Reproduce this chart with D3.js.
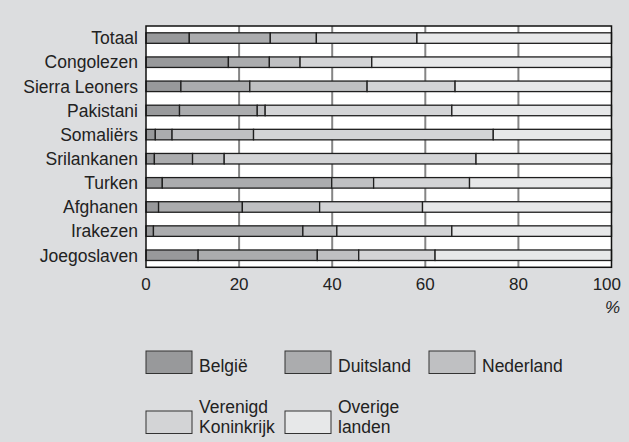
<!DOCTYPE html>
<html>
<head>
<meta charset="utf-8">
<script src="https://cdn.jsdelivr.net/npm/d3@7"></script>
<style>
  html, body { margin: 0; padding: 0; background: #dcdddf; }
  svg { display: block; font-family: "Liberation Sans", Arial, sans-serif; }
</style>
</head>
<body>
<svg id="chart" width="629" height="442"></svg>
<script>
// herkomstgroepen, van boven naar beneden
const groups = ['Totaal', 'Congolezen', 'Sierra Leoners', 'Pakistani', 'Somaliërs',
  'Srilankanen', 'Turken', 'Afghanen', 'Irakezen', 'Joegoslaven'];
const series = ['België', 'Duitsland', 'Nederland', 'Verenigd Koninkrijk', 'Overige landen'];

// percentages per land van bestemming
const belgie      = [9.3, 17.7, 7.5, 7.2, 2.0, 1.8, 3.5, 2.7, 1.6, 11.2];
const duitsland   = [17.4, 8.8, 14.8, 16.7, 3.6, 8.2, 36.4, 18.0, 32.1, 25.6];
const nederland   = [9.9, 6.6, 25.2, 1.7, 17.5, 6.8, 9.0, 16.6, 7.3, 8.9];
const verenigdKon = [21.6, 15.4, 18.9, 40.1, 51.5, 54.1, 20.6, 22.1, 24.7, 16.4];
const overige     = [41.8, 51.5, 33.6, 34.3, 25.4, 29.1, 30.5, 40.6, 34.3, 37.9];
const ticks = [0, 20, 40, 60, 80, 100];

const colors = ['#98999b', '#abacae', '#bfc0c2', '#d3d4d6', '#e7e8e9'];

const rows = groups.map((g, i) => ({
  group: g,
  'België': belgie[i],
  'Duitsland': duitsland[i],
  'Nederland': nederland[i],
  'Verenigd Koninkrijk': verenigdKon[i],
  'Overige landen': overige[i]
}));

const svg = d3.select('#chart');
const plotLeft = 146, plotRight = 611.5, plotTop = 26, plotBottom = 267.3;

const x = d3.scaleLinear().domain([0, 100]).range([plotLeft, plotRight]);
const y = d3.scaleBand().domain(groups).range([plotTop, plotBottom])
  .paddingInner(0.564).paddingOuter(0.282);
const color = d3.scaleOrdinal().domain(series).range(colors);

// plot area
svg.append('rect')
  .attr('x', plotLeft).attr('y', plotTop)
  .attr('width', plotRight - plotLeft).attr('height', plotBottom - plotTop)
  .attr('fill', '#fff');

// gridlines
svg.append('g').selectAll('line')
  .data(ticks.slice(1, -1))
  .join('line')
  .attr('x1', d => x(d)).attr('x2', d => x(d))
  .attr('y1', plotTop).attr('y2', plotBottom)
  .attr('stroke', '#858585').attr('stroke-width', 2);

const stacked = d3.stack().keys(series)(rows);

svg.append('g').selectAll('g')
  .data(stacked)
  .join('g')
  .attr('fill', d => color(d.key))
  .selectAll('rect')
  .data(d => d)
  .join('rect')
  .attr('x', d => x(d[0]))
  .attr('y', d => y(d.data.group))
  .attr('width', d => x(d[1]) - x(d[0]))
  .attr('height', y.bandwidth())
  .attr('stroke', '#1e1e1e')
  .attr('stroke-width', 1.3);

// frame
svg.append('rect')
  .attr('x', plotLeft).attr('y', plotTop)
  .attr('width', plotRight - plotLeft).attr('height', plotBottom - plotTop)
  .attr('fill', 'none').attr('stroke', '#111').attr('stroke-width', 1.5);

// category labels
svg.append('g').selectAll('text')
  .data(groups)
  .join('text')
  .attr('x', 138)
  .attr('y', d => y(d) + y.bandwidth() / 2)
  .attr('dy', '0.36em')
  .attr('text-anchor', 'end')
  .attr('font-size', 17.5)
  .attr('fill', '#222')
  .text(d => d);

// x tick labels
svg.append('g').selectAll('text')
  .data(ticks)
  .join('text')
  .attr('x', d => d === 100 ? 621 : x(d))
  .attr('y', 290)
  .attr('text-anchor', d => d === 100 ? 'end' : 'middle')
  .attr('font-size', 17)
  .attr('fill', '#222')
  .text(d => d);

svg.append('text')
  .attr('x', 620).attr('y', 313)
  .attr('text-anchor', 'end')
  .attr('font-size', 17)
  .attr('font-style', 'italic')
  .attr('fill', '#222')
  .text('%');

// legend
const legendItems = [
  { key: 'België', lines: ['België'], x: 146, y: 351 },
  { key: 'Duitsland', lines: ['Duitsland'], x: 285, y: 351 },
  { key: 'Nederland', lines: ['Nederland'], x: 429, y: 351 },
  { key: 'Verenigd Koninkrijk', lines: ['Verenigd', 'Koninkrijk'], x: 146, y: 411 },
  { key: 'Overige landen', lines: ['Overige', 'landen'], x: 285, y: 411 }
];

const lg = svg.append('g').selectAll('g')
  .data(legendItems)
  .join('g')
  .attr('transform', d => `translate(${d.x},${d.y})`);

lg.append('rect')
  .attr('width', 46).attr('height', 22.5)
  .attr('fill', d => color(d.key))
  .attr('stroke', '#333').attr('stroke-width', 1);

lg.append('text')
  .attr('x', 53)
  .attr('font-size', 17.5)
  .attr('fill', '#222')
  .selectAll('tspan')
  .data(d => d.lines.map((t, i) => ({ t, i, n: d.lines.length })))
  .join('tspan')
  .attr('x', 53)
  .attr('y', d => d.n === 1 ? 21 : 2 + d.i * 20)
  .text(d => d.t);
</script>
</body>
</html>
